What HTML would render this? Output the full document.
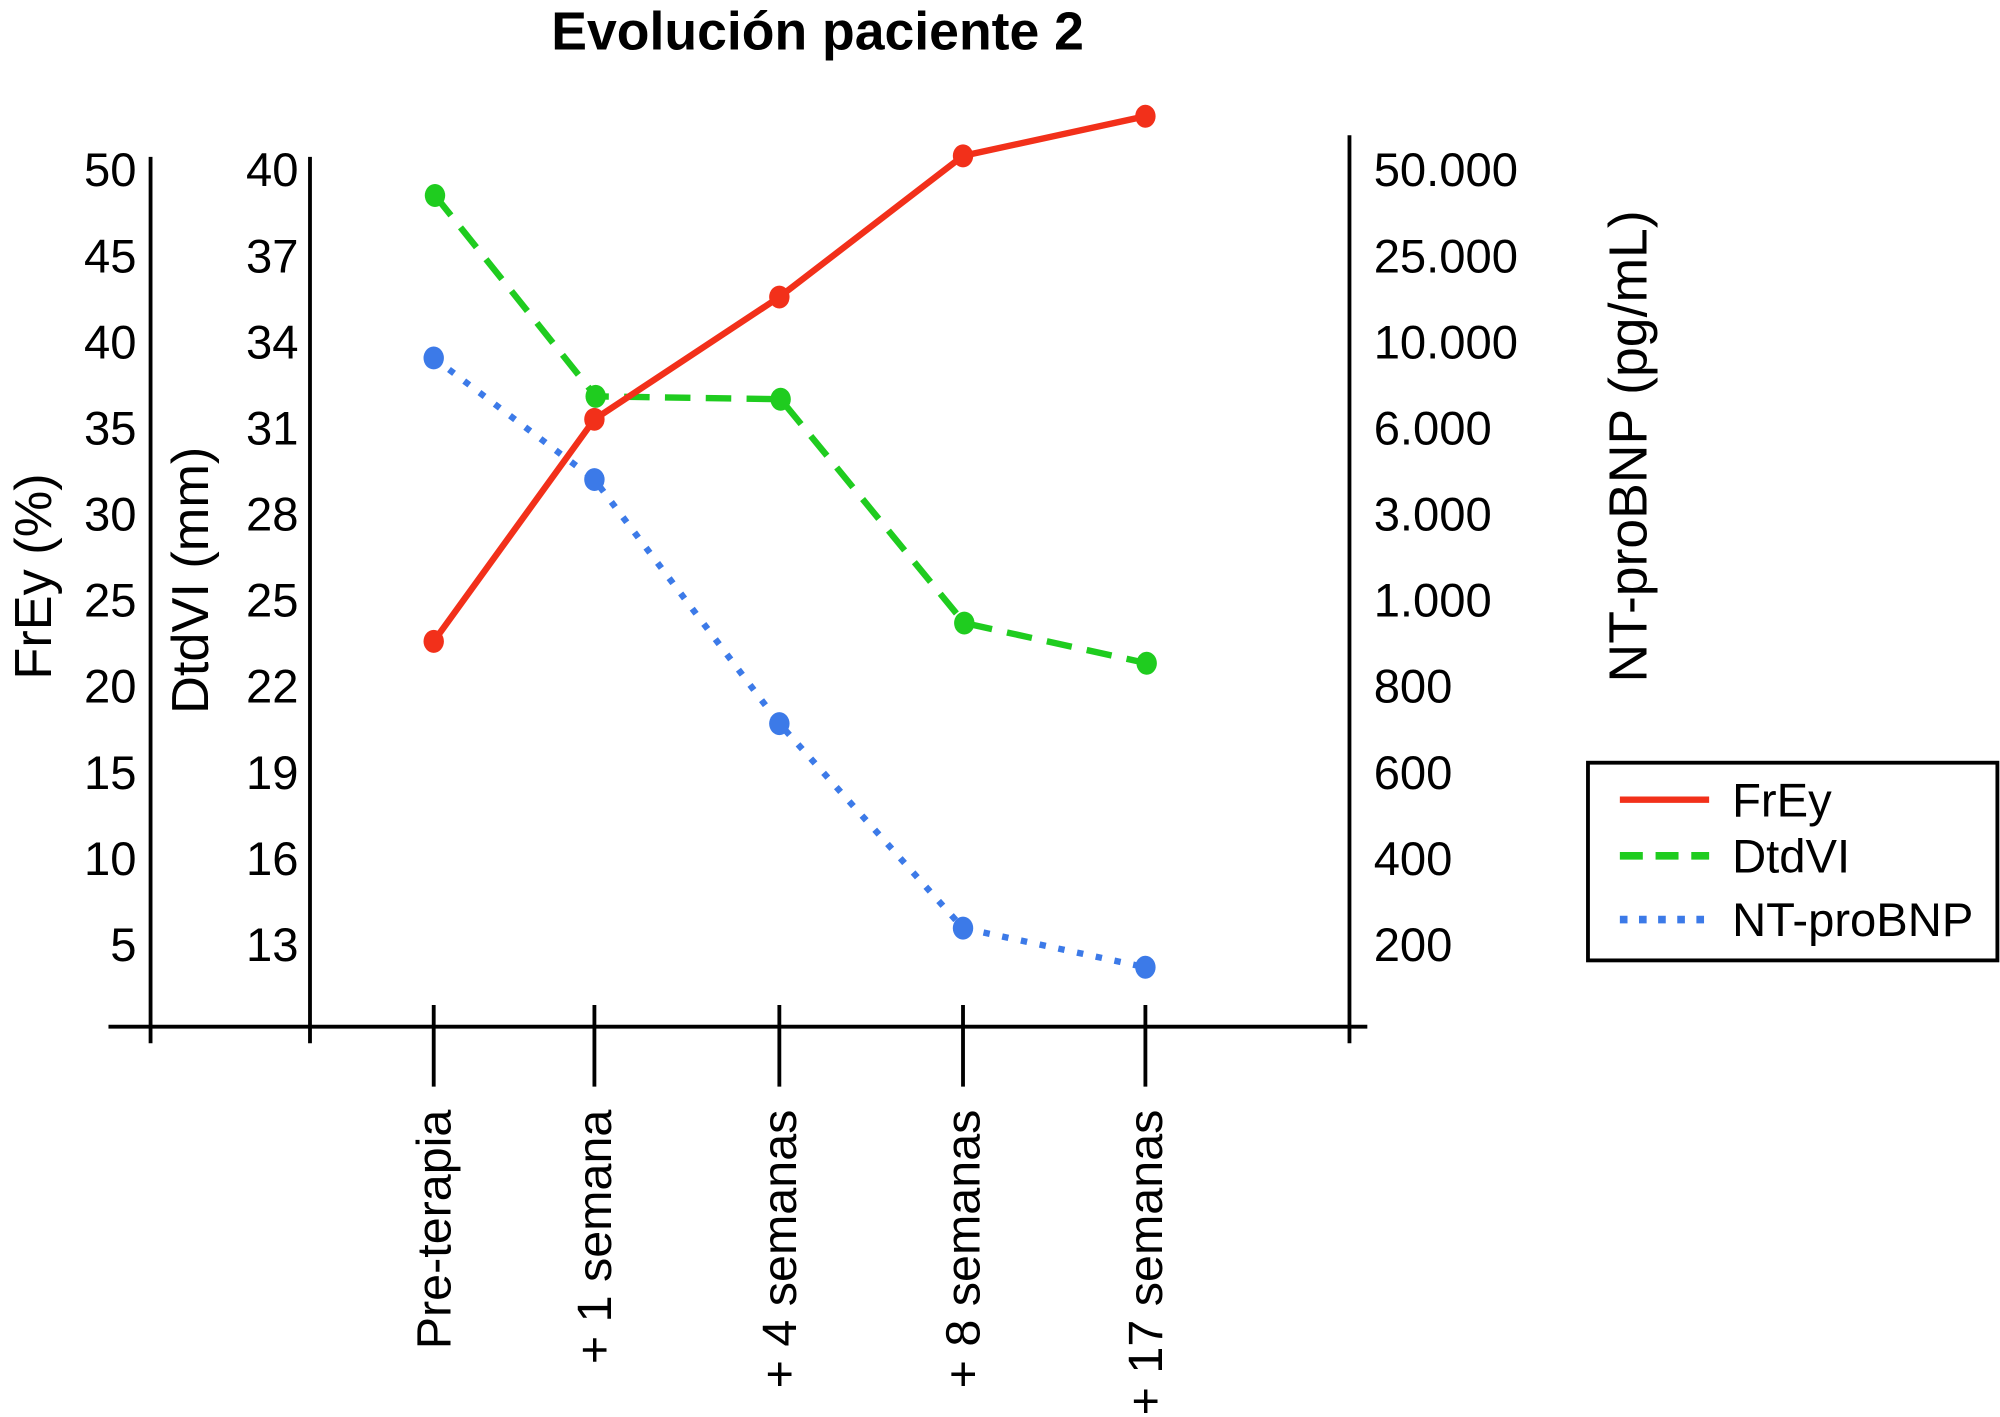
<!DOCTYPE html>
<html><head><meta charset="utf-8"><style>
html,body{margin:0;padding:0;background:#fff}
svg{display:block}
text{font-family:"Liberation Sans",Arial,sans-serif;fill:#000}
</style></head><body>
<svg id="chart" width="2000" height="1417" viewBox="0 0 1568 1111" xmlns="http://www.w3.org/2000/svg">
<text x="641" y="39" text-anchor="middle" font-size="42" font-weight="bold">Evolución paciente 2</text>
<g id="axes" stroke="#000" stroke-width="3" fill="none">
<line x1="85" y1="805" x2="1072" y2="805"/>
<line x1="118" y1="123" x2="118" y2="818"/>
<line x1="243" y1="123" x2="243" y2="818"/>
<line x1="1058" y1="106" x2="1058" y2="818"/>
</g>
<g id="ticks"></g>
<g id="series"></g>
<text transform="translate(40,452) rotate(-90)" text-anchor="middle" font-size="41">FrEy (%)</text>
<text transform="translate(163,455) rotate(-90)" text-anchor="middle" font-size="41">DtdVI (mm)</text>
<text transform="translate(1291,350) rotate(-90)" text-anchor="middle" font-size="42">NT-proBNP (pg/mL)</text>
<g>
<rect x="1245" y="598" width="321" height="155" fill="#fff" stroke="#000" stroke-width="3"/>
<line x1="1270" y1="627" x2="1340" y2="627" stroke="#f2301a" stroke-width="5"/>
<text x="1358" y="640" font-size="37">FrEy</text>
<line x1="1270" y1="671" x2="1340" y2="671" stroke="#1fcc1f" stroke-width="6" stroke-dasharray="18,10"/>
<text x="1358" y="684" font-size="37">DtdVI</text>
<line x1="1270" y1="721" x2="1340" y2="721" stroke="#3c7ae8" stroke-width="6" stroke-dasharray="6,9"/>
<text x="1358" y="734" font-size="37">NT-proBNP</text>
</g>
</svg>
<script>
const categories = ["Pre-terapia","+ 1 semana","+ 4 semanas","+ 8 semanas","+ 17 semanas"];
const freyValues = [22.6, 35.5, 42.6, 50.8, 53.1];
const dtdviValues = [39.1, 32.1, 32.0, 24.2, 22.8];
const ntprobnpValues = [9250, 4200, 713, 238, 147];
const freyTicks = [50,45,40,35,30,25,20,15,10,5];
const dtdviTicks = [40,37,34,31,28,25,22,19,16,13];
const ntTicks = [50000,25000,10000,6000,3000,1000,800,600,400,200];
const ntTickLabels = ["50.000","25.000","10.000","6.000","3.000","1.000","800","600","400","200"];

const NS="http://www.w3.org/2000/svg";
const xCat = i => [340,466,611,755,898][i] ?? 340 + i*140;
const yFrey = v => 133 + (50 - v) * 13.5;
const yDtd = v => 133 + (40 - v) * 22.5;
const ntStep = 67.5;
function yNt(v){
  for(let i=0;i<ntTicks.length-1;i++){
    const a=ntTicks[i], b=ntTicks[i+1];
    if(v<=a && v>=b) return 133 + (i + (a-v)/(a-b))*ntStep;
  }
  if(v>ntTicks[0]){const a=ntTicks[0],b=ntTicks[1];return 133 - (v-a)/(a-b)*ntStep;}
  const n=ntTicks.length, a=ntTicks[n-2], b=ntTicks[n-1];
  return 133 + (n-1 + (b-v)/(a-b))*ntStep;
}
function el(tag, attrs, parent, txt){
  const e=document.createElementNS(NS,tag);
  for(const k in attrs) e.setAttribute(k,attrs[k]);
  if(txt!==undefined) e.textContent=txt;
  parent.appendChild(e); return e;
}
const ticks=document.getElementById('ticks');
freyTicks.forEach(v=>{
  const t=el('text',{x:107,y:yFrey(v)+13,'text-anchor':'end','font-size':37},ticks,String(v));
  
  
});
dtdviTicks.forEach(v=>{
  const t=el('text',{x:234,y:yDtd(v)+13,'text-anchor':'end','font-size':37},ticks,String(v));
  
  
});
ntTicks.forEach((v,i)=>{
  const t=el('text',{x:1077,y:yNt(v)+13,'font-size':37},ticks,ntTickLabels[i]);
  
  
});
categories.forEach((c,i)=>{
  const x=xCat(i);
  const l=el('line',{x1:x,y1:788,x2:x,y2:852,stroke:'#000','stroke-width':3},ticks);
  
  
  const t=el('text',{transform:`translate(${x+13},870) rotate(-90)`,'text-anchor':'end','font-size':38},ticks,c);
  
  
});
const series=document.getElementById('series');
function drawSeries(vals, yf, color, dash, name, dx){
  const pts=vals.map((v,i)=>[xCat(i)+dx, yf(v)]);
  const p=el('polyline',{points:pts.map(p=>p.join(',')).join(' '),fill:'none',stroke:color,'stroke-width':5,'stroke-dasharray':dash},series);
  
  
  pts.forEach(q=>{
    const c=el('ellipse',{cx:q[0],cy:q[1],rx:8,ry:9,fill:color},series);
    
    
  });
}
drawSeries(ntprobnpValues, yNt, '#3c7ae8', '5,10', 'ntprobnp', 0);
drawSeries(dtdviValues, yDtd, '#1fcc1f', '20,12', 'dtdvi', 1);
drawSeries(freyValues, yFrey, '#f2301a', 'none', 'frey', 0);
</script>
</body></html>
